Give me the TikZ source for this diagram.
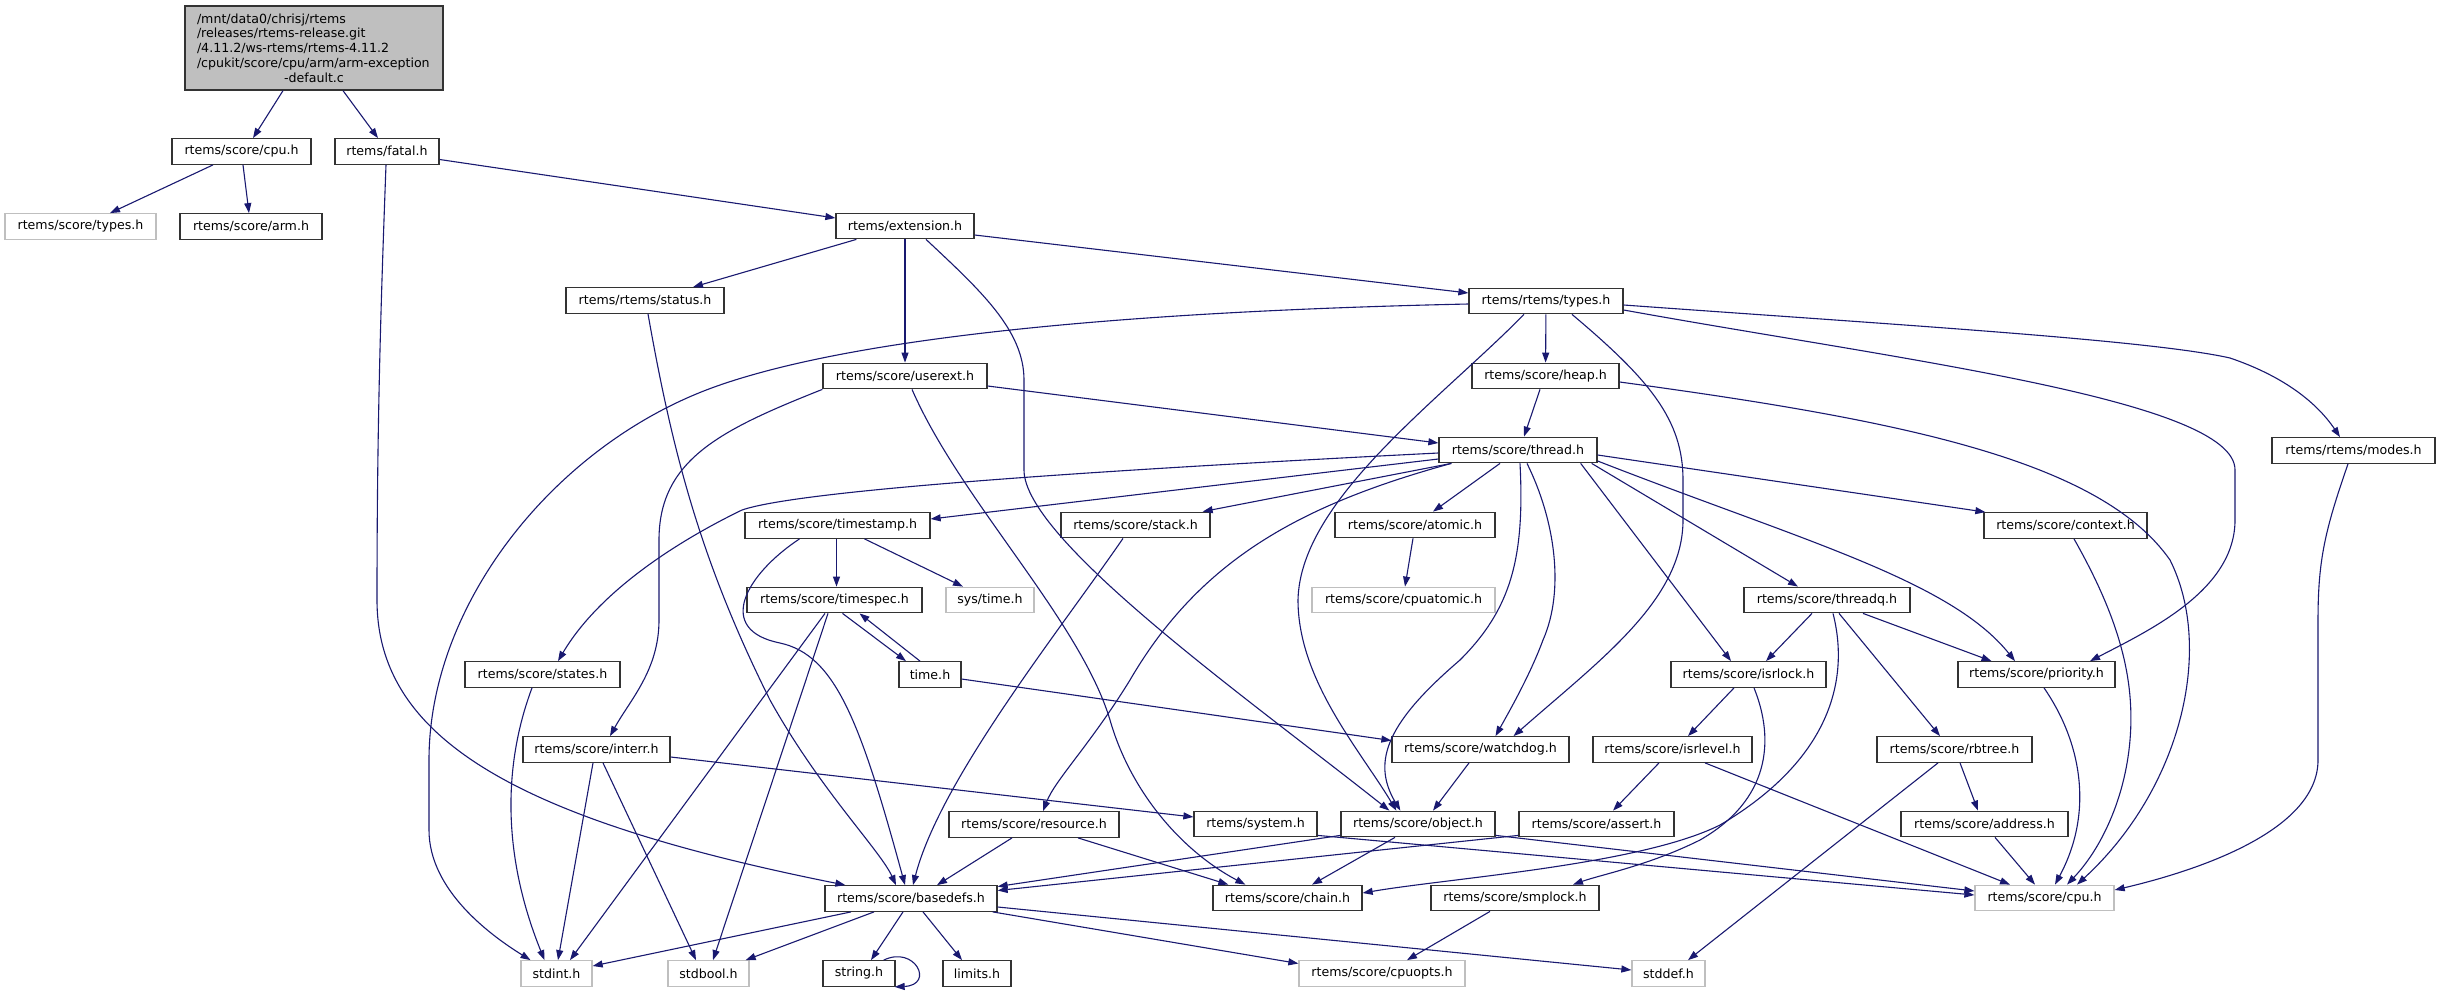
\documentclass[tikz,border=0pt]{standalone}
\usepackage{fontspec}
\setmainfont{DejaVu Sans}
\usetikzlibrary{calc,arrows.meta}
\definecolor{edgec}{HTML}{191970}
\definecolor{gborder}{HTML}{BFBFBF}
\definecolor{rootfill}{HTML}{BFBFBF}
\begin{document}
\begin{tikzpicture}[x=1pt,y=-1pt,
  hbox/.style={draw=black!80, line width=1.3pt, fill=white, minimum height=25.5pt, inner sep=0pt, font=\fontsize{12.6}{14.8}\selectfont},
  gbox/.style={hbox, draw=gborder},
  edge/.style={draw=edgec, line width=1.1pt, -{Triangle[length=10pt,width=7pt]}}]
\useasboundingbox[fill=white] (0,0) rectangle (2441,993);
% nodes
\node[hbox, fill=rootfill, minimum width=258pt, minimum height=84pt, text width=234pt, align=left, inner xsep=12pt] (root) at (314,48)
 {/mnt/data0/chrisj/rtems\\/releases/rtems-release.git\\/4.11.2/ws-rtems/rtems-4.11.2\\/cpukit/score/cpu/arm/arm-exception\\\makebox[234pt][c]{-default.c}};
\node[hbox, minimum width=139pt] (cpu) at (241.5,151.5) {rtems/score/cpu.h};
\node[hbox, minimum width=104pt] (fatal) at (387,151.5) {rtems/fatal.h};
\node[gbox, minimum width=151pt] (stypes) at (80.5,226.5) {rtems/score/types.h};
\node[hbox, minimum width=142pt] (arm) at (251,226.5) {rtems/score/arm.h};
\node[hbox, minimum width=138pt] (extension) at (905,226) {rtems/extension.h};
\node[hbox, minimum width=158pt] (status) at (645,300.5) {rtems/rtems/status.h};
\node[hbox, minimum width=154pt] (rtypes) at (1546,301) {rtems/rtems/types.h};
\node[hbox, minimum width=164pt] (userext) at (905,376) {rtems/score/userext.h};
\node[hbox, minimum width=147pt] (heap) at (1545.5,376) {rtems/score/heap.h};
\node[hbox, minimum width=163pt] (modes) at (2353.5,450.5) {rtems/rtems/modes.h};
\node[hbox, minimum width=158pt] (thread) at (1518,450) {rtems/score/thread.h};
\node[hbox, minimum width=185pt] (timestamp) at (837.5,525.5) {rtems/score/timestamp.h};
\node[hbox, minimum width=149pt] (stack) at (1135.5,525) {rtems/score/stack.h};
\node[hbox, minimum width=160pt] (atomic) at (1415,525) {rtems/score/atomic.h};
\node[hbox, minimum width=163pt] (context) at (2065.5,525.5) {rtems/score/context.h};
\node[hbox, minimum width=175pt] (timespec) at (834.5,600) {rtems/score/timespec.h};
\node[gbox, minimum width=88pt] (systime) at (990,600) {sys/time.h};
\node[gbox, minimum width=183pt] (cpuatomic) at (1403.5,600) {rtems/score/cpuatomic.h};
\node[hbox, minimum width=166pt] (threadq) at (1827,600) {rtems/score/threadq.h};
\node[hbox, minimum width=155pt] (states) at (542.5,674.5) {rtems/score/states.h};
\node[hbox, minimum width=62pt] (time) at (930,674.5) {time.h};
\node[hbox, minimum width=155pt] (isrlock) at (1748.5,674.5) {rtems/score/isrlock.h};
\node[hbox, minimum width=157pt] (priority) at (2036.5,674.5) {rtems/score/priority.h};
\node[hbox, minimum width=147pt] (interr) at (596.5,749.5) {rtems/score/interr.h};
\node[hbox, minimum width=177pt] (watchdog) at (1480.5,749.5) {rtems/score/watchdog.h};
\node[hbox, minimum width=159pt] (isrlevel) at (1672.5,749.5) {rtems/score/isrlevel.h};
\node[hbox, minimum width=155pt] (rbtree) at (1954.5,749.5) {rtems/score/rbtree.h};
\node[hbox, minimum width=170pt] (resource) at (1034,824.5) {rtems/score/resource.h};
\node[hbox, minimum width=123pt] (system) at (1255.5,824) {rtems/system.h};
\node[hbox, minimum width=154pt] (object) at (1418,824) {rtems/score/object.h};
\node[hbox, minimum width=155pt] (assert) at (1596.5,824) {rtems/score/assert.h};
\node[hbox, minimum width=167pt] (address) at (1984.5,824) {rtems/score/address.h};
\node[hbox, minimum width=172pt] (basedefs) at (911,898.5) {rtems/score/basedefs.h};
\node[hbox, minimum width=149pt] (chain) at (1287.5,898) {rtems/score/chain.h};
\node[hbox, minimum width=168pt] (smplock) at (1515,898) {rtems/score/smplock.h};
\node[gbox, minimum width=139pt] (cpu2) at (2044.5,898) {rtems/score/cpu.h};
\node[gbox, minimum width=71pt] (stdint) at (556.5,973.5) {stdint.h};
\node[gbox, minimum width=81pt] (stdbool) at (708.5,973.5) {stdbool.h};
\node[hbox, minimum width=72pt] (string) at (859,973.5) {string.h};
\node[hbox, minimum width=68pt] (limits) at (977,973.5) {limits.h};
\node[gbox, minimum width=166pt] (cpuopts) at (1382,973.5) {rtems/score/cpuopts.h};
\node[gbox, minimum width=73pt] (stddef) at (1668.5,973.5) {stddef.h};
% edges
\draw[edge] ($(root.south)+(-31,0)$) -- ($(cpu.north)+(11.5,0)$);
\draw[edge] ($(root.south)+(29,0)$) -- ($(fatal.north)+(-9,0)$);
\draw[edge] ($(cpu.south)+(-28.5,0)$) -- ($(stypes.north)+(29.5,0)$);
\draw[edge] ($(cpu.south)+(1.5,0)$) -- ($(arm.north)+(-2,0)$);
\draw[edge] ($(fatal.east)+(0,8)$) -- ($(extension.west)+(0,-8)$);
\draw[edge] ($(fatal.south)+(-1,0)$) .. controls (381,300) and (377,420) .. (377,600) .. controls (377,740) and (520,820) .. ($(basedefs.north west)+(21,0)$);
\draw[edge] ($(extension.south west)+(21,0)$) -- ($(status.north)+(48,0)$);
\draw[edge] (extension) -- (userext);
\draw[edge] ($(extension.east)+(0,9)$) -- ($(rtypes.west)+(0,-8)$);
\draw[edge] ($(extension.south)+(21,0)$) .. controls (980,290) and (1024,330) .. (1024,380) -- (1024,470) .. controls (1024,540) and (1250,700) .. ($(object.north west)+(49,0)$);
\draw[edge] ($(status.south)+(3,0)$) .. controls (672,450) and (700,560) .. (770,700) .. controls (820,790) and (880,850) .. ($(basedefs.north)+(-15,0)$);
\draw[edge] (rtypes) -- (heap);
\draw[edge] ($(heap.south)+(-5.5,0)$) -- ($(thread.north)+(6,0)$);
\draw[edge] ($(userext.east)+(0,10)$) -- ($(thread.west)+(0,-7)$);
\draw[edge] (userext.south west) .. controls (720,430) and (659,460) .. (659,540) -- (659,620) .. controls (659,670) and (630,700) .. ($(interr.north)+(13.5,0)$);
\draw[edge] ($(userext.south)+(7,0)$) .. controls (960,500) and (1080,620) .. (1110,720) .. controls (1130,790) and (1180,850) .. ($(chain.north west)+(33,0)$);
\draw[edge] ($(rtypes.west)+(0,3)$) .. controls (1100,312) and (850,340) .. (720,385) .. controls (560,440) and (429,600) .. (429,760) -- (429,830) .. controls (429,890) and (490,935) .. ($(stdint.north)+(-26,0)$);
\draw[edge] ($(rtypes.east)+(0,4)$) .. controls (1900,325) and (2150,340) .. (2230,358) .. controls (2280,375) and (2315,400) .. ($(modes.north)+(-13.5,0)$);
\draw[edge] ($(rtypes.east)+(0,9)$) .. controls (1900,360) and (2235,400) .. (2235,470) -- (2235,520) .. controls (2235,590) and (2150,630) .. ($(priority.north)+(53.5,0)$);
\draw[edge] ($(rtypes.south)+(-22,0)$) .. controls (1440,400) and (1300,500) .. (1298,600) .. controls (1298,680) and (1360,750) .. ($(object.north west)+(56,0)$);
\draw[edge] ($(rtypes.south)+(26,0)$) .. controls (1650,380) and (1683,420) .. (1683,480) -- (1683,520) .. controls (1683,600) and (1600,660) .. ($(watchdog.north)+(33,0)$);
\draw[edge] ($(thread.west)+(0,3)$) .. controls (1100,470) and (800,490) .. (742,510) .. controls (680,540) and (600,590) .. ($(states.north)+(15.5,0)$);
\draw[edge] ($(thread.west)+(0,9)$) -- ($(timestamp.east)+(0,-6.5)$);
\draw[edge] ($(thread.south west)+(13,0)$) -- ($(stack.north east)+(-8,0)$);
\draw[edge] ($(thread.south west)+(13,0)$) .. controls (1300,505) and (1200,560) .. (1130,680) .. controls (1090,745) and (1055,780) .. ($(resource.north)+(9,0)$);
\draw[edge] ($(thread.south)+(-18,0)$) -- ($(atomic.north)+(18,0)$);
\draw[edge] ($(atomic.south)+(-2,0)$) -- ($(cpuatomic.north)+(1.5,0)$);
\draw[edge] ($(thread.south)+(2,0)$) .. controls (1525,560) and (1510,610) .. (1460,660) .. controls (1390,720) and (1370,760) .. ($(object.north west)+(60,0)$);
\draw[edge] ($(thread.south)+(9,0)$) .. controls (1555,520) and (1565,590) .. (1543,640) .. controls (1530,675) and (1510,710) .. ($(watchdog.north)+(15,0)$);
\draw[edge] ($(thread.south east)+(-17,0)$) -- ($(isrlock.north)+(-17.5,0)$);
\draw[edge] ($(thread.south east)+(-6,0)$) -- ($(threadq.north)+(-29,0)$);
\draw[edge] ($(thread.east)+(0,11)$) .. controls (1800,540) and (1950,580) .. ($(priority.north)+(-21.5,0)$);
\draw[edge] ($(thread.east)+(0,5)$) -- ($(context.north west)+(2,0)$);
\draw[edge] ($(timestamp.south)+(-1,0)$) -- ($(timespec.north)+(2,0)$);
\draw[edge] ($(timestamp.south)+(27,0)$) -- ($(systime.north)+(-27,0)$);
\draw[edge] ($(timestamp.south)+(-38,0)$) .. controls (745,575) and (715,630) .. (780,643) .. controls (835,655) and (860,720) .. ($(basedefs.north)+(-6,0)$);
\draw[edge] ($(timespec.south)+(8,0)$) -- ($(time.north)+(-24,0)$);
\draw[edge] ($(time.north)+(-10,0)$) -- ($(timespec.south)+(25,0)$);
\draw[edge] ($(timespec.south)+(-9.5,0)$) -- ($(stdint.north)+(13.5,0)$);
\draw[edge] ($(timespec.south)+(-6.5,0)$) -- ($(stdbool.north)+(4.5,0)$);
\draw[edge] ($(time.east)+(0,4.5)$) -- ($(watchdog.west)+(0,-9)$);
\draw[edge] ($(states.south)+(-10.5,0)$) .. controls (505,760) and (500,850) .. ($(stdint.north)+(-12,0)$);
\draw[edge] ($(interr.east)+(0,7.5)$) -- ($(system.west)+(0,-7)$);
\draw[edge] ($(interr.south)+(-3.5,0)$) -- ($(stdint.north)+(1.5,0)$);
\draw[edge] ($(interr.south)+(6.5,0)$) -- ($(stdbool.north)+(-12.5,0)$);
\draw[edge] ($(stack.south)+(-12.5,0)$) .. controls (1060,630) and (940,780) .. ($(basedefs.north)+(2,0)$);
\draw[edge] ($(resource.south)+(-22,0)$) -- ($(basedefs.north)+(26,0)$);
\draw[edge] ($(resource.south)+(44,0)$) -- ($(chain.north west)+(16,0)$);
\draw[edge] ($(system.south east)+(0,-2)$) -- ($(cpu2.west)+(0,-3)$);
\draw[edge] ($(object.south west)+(0,-2)$) -- ($(basedefs.east)+(0,-12)$);
\draw[edge] ($(object.south)+(-23,0)$) -- ($(chain.north)+(24.5,0)$);
\draw[edge] ($(object.south east)+(0,-2)$) -- ($(cpu2.west)+(0,-7)$);
\draw[edge] ($(assert.south west)+(0,-2)$) -- ($(basedefs.east)+(0,-8)$);
\draw[edge] ($(watchdog.south)+(-11.5,0)$) -- ($(object.north)+(15,0)$);
\draw[edge] ($(isrlock.south)+(-14.5,0)$) -- ($(isrlevel.north)+(15.5,0)$);
\draw[edge] ($(isrlock.south)+(5.5,0)$) .. controls (1775,740) and (1770,800) .. (1700,840) .. controls (1650,865) and (1600,875) .. ($(smplock.north)+(58,0)$);
\draw[edge] ($(isrlevel.south)+(-13.5,0)$) -- ($(assert.north)+(16.5,0)$);
\draw[edge] ($(isrlevel.south)+(32.5,0)$) -- ($(cpu2.north)+(-34.5,0)$);
\draw[edge] ($(threadq.south)+(-15,0)$) -- ($(isrlock.north)+(17.5,0)$);
\draw[edge] ($(threadq.south)+(36,0)$) -- ($(priority.north)+(-45,0)$);
\draw[edge] ($(threadq.south)+(6,0)$) .. controls (1850,680) and (1830,760) .. (1720,825) .. controls (1640,865) and (1450,878) .. ($(chain.east)+(0,-5)$);
\draw[edge] ($(threadq.south)+(12,0)$) -- ($(rbtree.north)+(-14.5,0)$);
\draw[edge] ($(rbtree.south)+(5.5,0)$) -- ($(address.north)+(-6.5,0)$);
\draw[edge] ($(rbtree.south)+(-16.5,0)$) -- ($(stddef.north)+(19.5,0)$);
\draw[edge] ($(address.south)+(10.5,0)$) -- ($(cpu2.north)+(-9.5,0)$);
\draw[edge] ($(priority.south)+(7.5,0)$) .. controls (2080,740) and (2095,810) .. ($(cpu2.north)+(10.5,0)$);
\draw[edge] ($(context.south)+(8.5,0)$) .. controls (2120,620) and (2135,680) .. (2130,740) .. controls (2125,800) and (2100,850) .. ($(cpu2.north)+(22.5,0)$);
\draw[edge] ($(heap.east)+(0,6)$) .. controls (1900,420) and (2100,460) .. (2170,560) .. controls (2215,650) and (2180,790) .. ($(cpu2.north)+(32.5,0)$);
\draw[edge] ($(modes.south)+(-5.5,0)$) .. controls (2325,530) and (2318,560) .. (2318,620) -- (2318,760) .. controls (2318,830) and (2200,870) .. ($(cpu2.east)+(0,-8)$);
\draw[edge] ($(smplock.south)+(-25,0)$) -- ($(cpuopts.north)+(25,0)$);
\draw[edge] ($(basedefs.south)+(-60,0)$) -- ($(stdint.east)+(0,-7.5)$);
\draw[edge] ($(basedefs.south)+(-37,0)$) -- ($(stdbool.north east)+(-4,0)$);
\draw[edge] ($(basedefs.south)+(-8,0)$) -- ($(string.north)+(12,0)$);
\draw[edge] ($(basedefs.south)+(12,0)$) -- ($(limits.north)+(-15,0)$);
\draw[edge] ($(basedefs.east)+(0,8.5)$) -- ($(stddef.west)+(0,-3.5)$);
\draw[edge] ($(basedefs.south east)+(-5,0)$) -- ($(cpuopts.west)+(0,-10)$);
\draw[edge] ($(string.north east)+(-12,0)$) .. controls (915,945) and (935,985) .. ($(string.south east)+(-1,0)$);
\end{tikzpicture}
\end{document}
